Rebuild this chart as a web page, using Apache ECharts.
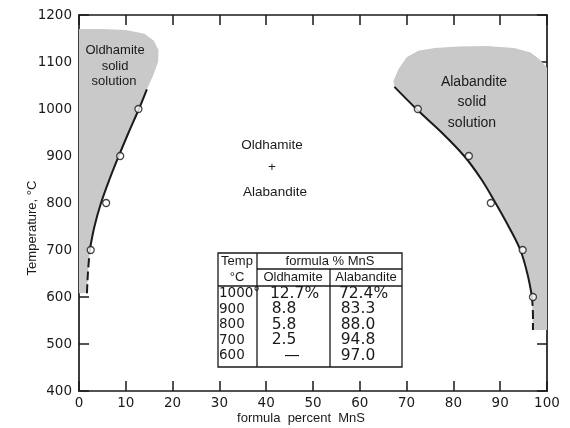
<!DOCTYPE html>
<html><head><meta charset="utf-8">
<script src="https://cdn.jsdelivr.net/npm/echarts@6/dist/echarts.min.js"></script>
<style>html,body{margin:0;padding:0;background:#fff}#c{width:570px;height:428px}</style>
</head><body><div id="c"></div>
<script>
// ---- data ----
const temps = [1000, 900, 800, 700, 600];
const tempLabels = ['1000°', '900', '800', '700', '600'];
const oldhamitePct = [12.7, 8.8, 5.8, 2.5, null];
const alabanditePct = [72.4, 83.3, 88.0, 94.8, 97.0];
const oldhamiteLabels = ['12.7%', '8.8', '5.8', '2.5', '—'];
const alabanditeLabels = ['72.4%', '83.3', '88.0', '94.8', '97.0'];

// solvus curves
const oldCurve = [[2.3,700],[3.3,750],[4.7,800],[6.5,850],[8.5,900],[10.6,950],[12.8,1000],[14.5,1042]];
const oldCurveDash = [[1.7,608],[1.9,650],[2.3,700]];
const alaCurve = [[67.4,1047],[72.1,1000],[77.5,950],[82.3,900],[86.0,850],[89.0,800],[91.8,750],[94.3,700],[95.8,650],[96.8,600]];
const alaCurveDash = [[96.8,600],[97.0,560],[97.0,530]];

// shaded solid-solution fields
const oldField = [[0,608],[1.7,608],[1.9,650],[2.3,700],[3.3,750],[4.7,800],[6.5,850],[8.5,900],[10.6,950],[12.8,1000],[14.5,1042],[15.8,1070],[16.9,1100],[17.0,1125],[16.0,1145],[14,1160],[10,1168],[5,1170],[0,1170]];
const alaField = [[67.4,1047],[72.1,1000],[77.5,950],[82.3,900],[86.0,850],[89.0,800],[91.8,750],[94.3,700],[95.8,650],[96.8,600],[97.0,530],[100,530],[100,1088],[98.5,1105],[96.5,1120],[93,1130],[87,1134],[81,1133],[76,1130],[72.5,1124],[70,1110],[68.3,1085],[67.2,1060]];

const xMin = 0, xMax = 100, xStep = 10;
const yMin = 400, yMax = 1200, yStep = 100;

// ---- chart ----
const chart = echarts.init(document.getElementById('c'), null, {renderer: 'canvas'});
const ink = '#1a1a1a';
const tickFont = {fontFamily: 'DejaVu Sans', fontSize: 13.5, color: ink, formatter: v => String(v)};
const lbl = 'Liberation Sans';

function fieldSeries(poly) {
  return {
    type: 'custom', xAxisIndex: 0, yAxisIndex: 0, z: 1, silent: true,
    data: [[0, 0]],
    renderItem: function (params, api) {
      return {type: 'polygon', shape: {points: poly.map(p => api.coord(p)), smooth: 0}, style: {fill: '#c9c9c9'}};
    }
  };
}
function curve(pts, dashed) {
  return {type: 'line', data: pts, smooth: 0.35, showSymbol: false, z: 3, silent: true,
    lineStyle: {color: ink, width: 2, type: dashed ? [9, 4] : 'solid'}};
}
const pts = [];
temps.forEach((t, i) => {
  if (oldhamitePct[i] != null) pts.push([oldhamitePct[i], t]);
  pts.push([alabanditePct[i], t]);
});

function mkAxis(pos, min, max, step, label) {
  return {
    type: 'value', position: pos, min: min, max: max, interval: step,
    axisLine: {show: true, onZero: false, lineStyle: {color: ink, width: 1.7}},
    axisTick: {show: true, inside: true, length: 10, lineStyle: {color: ink, width: 1.5}},
    splitLine: {show: false},
    axisLabel: label ? label : {show: false}
  };
}

const option = {
  animation: false,
  backgroundColor: '#fff',
  grid: {left: 79, right: 23, top: 15, bottom: 37, containLabel: false},
  xAxis: [
    mkAxis('bottom', xMin, xMax, xStep, Object.assign({margin: 5}, tickFont)),
    mkAxis('top', xMin, xMax, xStep, null)
  ],
  yAxis: [
    mkAxis('left', yMin, yMax, yStep, Object.assign({margin: 7}, tickFont)),
    mkAxis('right', yMin, yMax, yStep, null)
  ],
  series: [
    fieldSeries(oldField),
    fieldSeries(alaField),
    curve(oldCurve, false),
    curve(oldCurveDash, true),
    curve(alaCurve, false),
    curve(alaCurveDash, true),
    {type: 'scatter', data: pts, symbol: 'circle', symbolSize: 7, z: 5, silent: true,
      itemStyle: {color: '#fff', borderColor: ink, borderWidth: 1.3}}
  ]
};
chart.setOption(option);

// ---- annotations & table ----
const g = [];
function txt(x, y, s, opt) {
  g.push(Object.assign({type: 'text', x: x, y: y, z: 10, silent: true,
    style: Object.assign({text: s, fill: ink, font: '13px "' + lbl + '"', textAlign: 'center', textVerticalAlign: 'middle'}, opt || {})}));
}
function ln(x1, y1, x2, y2) {
  g.push({type: 'line', z: 10, silent: true, shape: {x1: x1, y1: y1, x2: x2, y2: y2}, style: {stroke: ink, lineWidth: 1.3}});
}
// field labels
txt(115, 50, 'Oldhamite'); txt(115, 66, 'solid'); txt(114, 81, 'solution');
txt(474, 82, 'Alabandite', {font: '14px "' + lbl + '"'}); txt(472, 102, 'solid', {font: '14px "' + lbl + '"'}); txt(472, 123, 'solution', {font: '14px "' + lbl + '"'});
txt(272, 145, 'Oldhamite', {font: '13.5px "' + lbl + '"'});
txt(272, 167, '+', {font: '13.5px "' + lbl + '"'});
txt(275, 192, 'Alabandite', {font: '13.5px "' + lbl + '"'});
// axis titles
g.push({type: 'text', x: 32, y: 228, rotation: Math.PI / 2, z: 10, silent: true,
  style: {text: 'Temperature, °C', fill: ink, font: '13px "' + lbl + '"', textAlign: 'center', textVerticalAlign: 'middle'}});
txt(301, 418, 'formula  percent  MnS', {font: '13px "' + lbl + '"'});

// table
const tx0 = 218, tx1 = 257, tx2 = 330, tx3 = 402, ty0 = 253, ty1 = 269, ty2 = 286, ty3 = 367;
g.push({type: 'rect', z: 10, silent: true, shape: {x: tx0, y: ty0, width: tx3 - tx0, height: ty3 - ty0}, style: {fill: '#fff', stroke: ink, lineWidth: 1.3}});
ln(tx1, ty0, tx1, ty3);
ln(tx2, ty1, tx2, ty3);
ln(tx1, ty1, tx3, ty1);
ln(tx0, ty2, tx3, ty2);
txt(237, 261, 'Temp'); txt(237, 277, '°C');
txt(330, 261, 'formula % MnS');
txt(293, 277.5, 'Oldhamite'); txt(366, 277.5, 'Alabandite');
const rowY = [293.5, 309, 324.5, 340, 355.5];
const numFont = '15.5px "DejaVu Sans"';
const tempFont = '13.5px "DejaVu Sans"';
tempLabels.forEach((s, i) => txt(219, rowY[i], s, {font: tempFont, textAlign: 'left'}));
oldhamiteLabels.forEach((s, i) => {
  if (oldhamitePct[i] == null) txt(292, rowY[i], s, {font: numFont});
  else if (s.indexOf('%') >= 0) txt(294.5, rowY[i], s, {font: numFont});
  else txt(284, rowY[i], s, {font: numFont});
});
alabanditeLabels.forEach((s, i) => {
  if (s.indexOf('%') >= 0) txt(363.5, rowY[i], s, {font: numFont});
  else txt(358, rowY[i], s, {font: numFont});
});

chart.setOption({graphic: g});
</script></body></html>
